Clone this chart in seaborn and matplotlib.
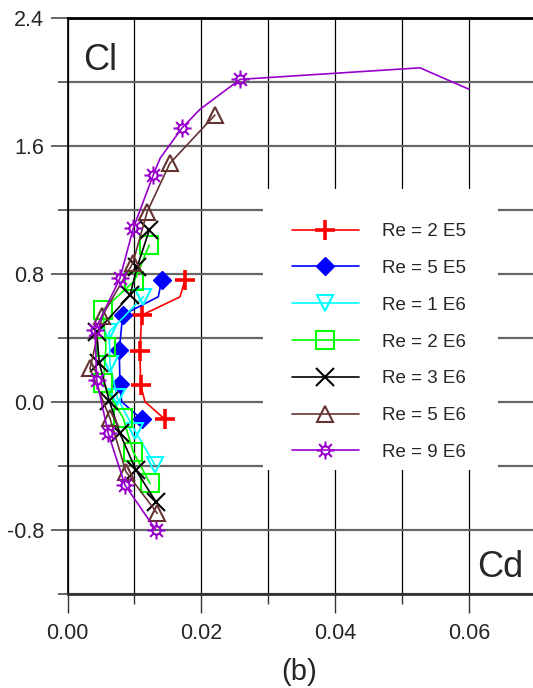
import matplotlib
matplotlib.use("Agg")
import matplotlib.pyplot as plt
import seaborn as sns
import numpy as np
from matplotlib.path import Path
from matplotlib.lines import Line2D
from matplotlib.patches import Rectangle
from matplotlib.ticker import MultipleLocator, FormatStrFormatter

############################## data ######################
labels = ['Re = 2 E5', 'Re = 5 E5', 'Re = 1 E6', 'Re = 2 E6',
          'Re = 3 E6', 'Re = 5 E6', 'Re = 9 E6']

# Re = 2 E5
cd_2e5 = [0.01755, 0.0168, 0.01108, 0.01082, 0.01093, 0.01157, 0.01456]
cl_2e5 = [0.762, 0.657, 0.543, 0.321, 0.107, 0.003, -0.107]
# Re = 5 E5
cd_5e5 = [0.01407, 0.01356, 0.00824, 0.00773, 0.00783, 0.00809, 0.01108]
cl_5e5 = [0.762, 0.658, 0.544, 0.325, 0.113, 0.003, -0.107]
# Re = 1 E6
cd_1e6 = [0.01132, 0.00623, 0.00634, 0.0074, 0.0101, 0.01306]
cl_1e6 = [0.658, 0.439, 0.238, 0.03, -0.18, -0.392]
# Re = 2 E6
cd_2e6 = [0.01221, 0.0100, 0.00525, 0.00574, 0.00534, 0.00833, 0.00982, 0.01232]
cl_2e6 = [0.981, 0.757, 0.575, 0.346, 0.117, -0.101, -0.310, -0.507]
# Re = 3 E6
cd_3e6 = [0.01221, 0.01042, 0.00933, 0.00435, 0.00474, 0.00623, 0.00783, 0.01022, 0.01321]
cl_3e6 = [1.074, 0.846, 0.668, 0.440, 0.246, 0.009, -0.195, -0.424, -0.622]
# Re = 5 E6
cd_5e6 = [0.02203, 0.0153, 0.01191, 0.00973, 0.0052, 0.00335, 0.00634, 0.00873, 0.01341]
cl_5e6 = [1.792, 1.491, 1.189, 0.866, 0.54, 0.211, -0.101, -0.434, -0.694]
# Re = 9 E6 (first two points of the curve carry no symbol)
cd_9e6 = [0.060, 0.0527, 0.0258, 0.0198, 0.01706, 0.01383, 0.01281, 0.00982,
          0.00783, 0.0041, 0.00435, 0.00608, 0.00858, 0.01321]
cl_9e6 = [1.954, 2.087, 2.015, 1.828, 1.709, 1.522, 1.418, 1.085,
          0.773, 0.450, 0.138, -0.195, -0.517, -0.798]

# which points of each curve get a symbol
marked_2e5 = [0, 2, 3, 4, 6]
marked_5e5 = [0, 2, 3, 4, 6]
marked_9e6 = [2, 4, 6, 7, 8, 9, 10, 11, 12, 13]


def sun_marker():
    circ = Path.circle((0, 0), 0.45)
    verts, codes = [], []
    for a in np.arange(8) * np.pi / 4:
        verts += [(0.45 * np.cos(a), 0.45 * np.sin(a)), (np.cos(a), np.sin(a))]
        codes += [Path.MOVETO, Path.LINETO]
    return Path.make_compound_path(circ, Path(verts, codes))


sns.set_style("white")
plt.rcParams['font.family'] = ['Liberation Sans', 'DejaVu Sans']
plt.rcParams['axes.unicode_minus'] = False

fig = plt.figure(figsize=(5.33, 6.88), dpi=100)
ax = fig.add_axes([0.1268, 0.1360, 1 - 0.1268, 0.8383])

series = [
    (cd_2e5, cl_2e5, marked_2e5, '#ff0000', dict(marker='+', ms=14, mew=2.6)),
    (cd_5e5, cl_5e5, marked_5e5, '#0000ff', dict(marker='D', ms=9.5, mew=1, mfc='#0000ff')),
    (cd_1e6, cl_1e6, None, '#00ffff', dict(marker='v', ms=11.5, mew=1.5, mfc='none')),
    (cd_2e6, cl_2e6, None, '#00ff00', dict(marker='s', ms=12.5, mew=1.5, mfc='none')),
    (cd_3e6, cl_3e6, None, '#000000', dict(marker='x', ms=12.5, mew=1.5)),
    (cd_5e6, cl_5e6, None, '#663333', dict(marker='^', ms=11.5, mew=1.5, mfc='none')),
    (cd_9e6, cl_9e6, marked_9e6, '#9900cc', dict(marker=sun_marker(), ms=13, mew=1.5, mfc='none')),
]

handles = []
for (cd, cl, marked, col, mk), lab in zip(series, labels):
    sns.lineplot(x=cd, y=cl, sort=False, estimator=None, color=col, lw=1.2,
                 markevery=marked, mec=col, ax=ax, **mk)
    handles.append(Line2D([], [], color=col, lw=1.2, mec=col, **mk))

ax.set_xlim(0, 0.0696)
ax.set_ylim(-1.2, 2.4)
ax.xaxis.set_major_locator(MultipleLocator(0.02))
ax.xaxis.set_minor_locator(MultipleLocator(0.01))
ax.yaxis.set_major_locator(MultipleLocator(0.8))
ax.yaxis.set_minor_locator(MultipleLocator(0.4))
ax.xaxis.set_major_formatter(FormatStrFormatter('%.2f'))
ax.yaxis.set_major_formatter(FormatStrFormatter('%.1f'))

ax.set_axisbelow(True)
ax.grid(which='both', axis='x', color='black', lw=0.9)
ax.grid(which='both', axis='y', color='#666666', lw=1.6)

ax.tick_params(axis='x', which='major', direction='out', length=13.5, width=1,
               color='#333333', pad=7, labelsize=15.5, bottom=True)
ax.tick_params(axis='x', which='minor', direction='out', length=7, width=1,
               color='#333333', bottom=True)
ax.tick_params(axis='y', which='major', direction='out', length=12.5, width=1.4,
               color='#666666', pad=4.3, labelsize=15.5, left=True)
ax.tick_params(axis='y', which='minor', direction='out', length=7, width=1.4,
               color='#666666', left=True)

ax.spines['right'].set_visible(False)
ax.spines['top'].set_linewidth(2)
ax.spines['top'].set_color('black')
ax.spines['left'].set_linewidth(1.2)
ax.spines['left'].set_color('black')
ax.spines['bottom'].set_linewidth(2)
ax.spines['bottom'].set_color('#333333')
ax.set_xlabel('')
ax.set_ylabel('')

# white panel behind the legend, hiding the grid
ax.add_patch(Rectangle((263 / 533, 1 - 470 / 688), (497.5 - 263) / 533, (470 - 188.5) / 688,
                       transform=fig.transFigure, facecolor='white', edgecolor='none',
                       zorder=1))

leg = ax.legend(handles=handles, labels=labels, loc='upper left',
                bbox_to_anchor=(291.5 / 533, 1 - 223 / 688),
                bbox_transform=fig.transFigure, borderaxespad=0,
                fontsize=13.5, handlelength=3.6, handletextpad=1.2,
                labelspacing=1.05, borderpad=0, frameon=False)

fig.text(82.7 / 533, 1 - 69.5 / 688, 'Cl', fontsize=26, va='baseline', ha='left')
fig.text(477.6 / 533, 1 - 576.7 / 688, 'Cd', fontsize=26, va='baseline', ha='left')
fig.text(299 / 533, 1 - 671.5 / 688, '(b)', fontsize=21, va='center', ha='center')

fig.savefig('out.png', dpi=100)
